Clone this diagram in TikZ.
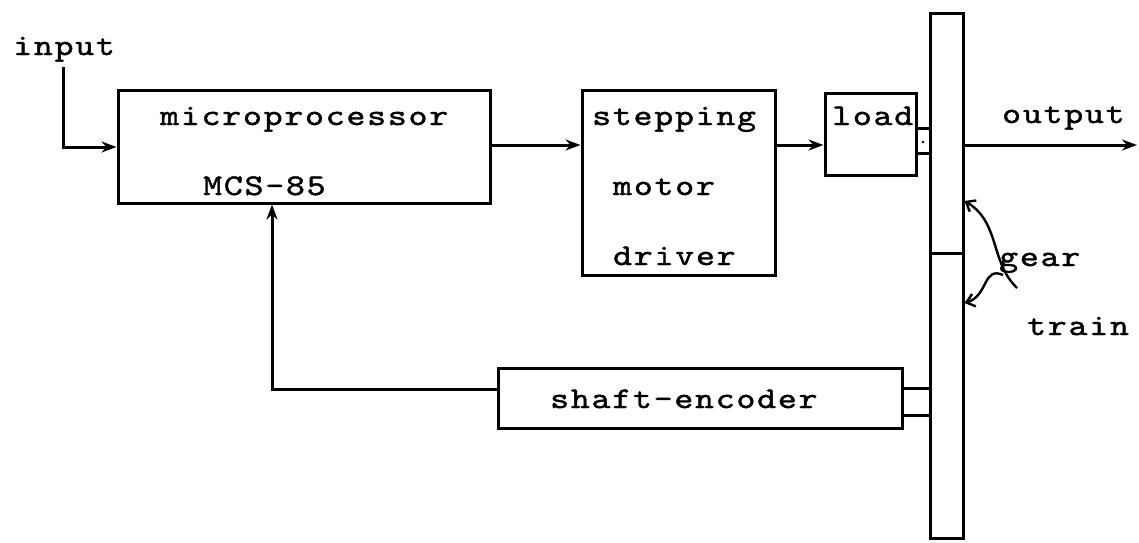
\documentclass[tikz,border=0pt]{standalone}
\usepackage{fontspec}
\newfontfamily\tw{lmmono10-regular}[Extension=.otf, LetterSpace=6, FakeBold=1.4, FakeStretch=1.2]
\usetikzlibrary{arrows.meta}
\tikzset{
  blk/.style={draw, line width=3pt, rectangle, inner sep=0pt},
  lbl/.style={anchor=base west, inner sep=0pt, font=\tw\fontsize{30}{32}\selectfont},
  conn/.style={line width=3pt},
  arr/.style={conn, -{Stealth[length=15pt,width=11pt]}},
  barb/.style={line width=2.4pt, -{Straight Barb[length=8pt,width=13pt]}}
}
\begin{document}
\begin{tikzpicture}[x=1pt,y=-1pt]
\useasboundingbox (0,0) rectangle (1139,542);
% boxes
\node[blk, minimum width=372pt, minimum height=113pt] (mp) at (304,146.5) {};
\node[blk, minimum width=193pt, minimum height=185pt] (smd) at (678.5,182.5) {};
\node[blk, minimum width=91pt, minimum height=82pt] (load) at (870.5,134) {};
\node[blk, minimum width=33pt, minimum height=525pt] (bar) at (946.5,275.5) {};
\node[blk, minimum width=404pt, minimum height=60pt] (enc) at (700,398) {};
\node[blk, minimum width=14pt, minimum height=25pt] (lc) at (923,140.5) {};
\node[blk, minimum width=28pt, minimum height=27pt] (ec) at (916,401.5) {};
\fill (923,142) circle (1.3pt);
\draw[conn] (bar.west |- 0,253) -- (bar.east |- 0,253);
% texts
\node[lbl] (tin) at (13,55) {input};
\node[lbl] (tmp) at (160,125) {microprocessor};
\node[lbl] (tmcs) at (203,195) {MCS-85};
\node[lbl] (tst) at (592,125) {stepping};
\node[lbl] (tmo) at (613,195) {motor};
\node[lbl] (tdr) at (613,265) {driver};
\node[lbl] (tld) at (832,125) {load};
\node[lbl] (tout) at (1002,123) {output};
\node[lbl] (tsh) at (550,408) {shaft-encoder};
\node[lbl] (tgear) at (999,266) {gear};
\node[lbl] (ttr) at (1027,335) {train};
% connectors
\coordinate (inTop) at (63,67);
\coordinate (outEnd) at (1137,145);
\coordinate (fbx) at (272,389);
\draw[arr] (inTop) |- (mp.west |- 0,147);
\draw[arr] (mp.east |- 0,145) -- (smd.west |- 0,145);
\draw[arr] (smd.east |- 0,145) -- (load.west |- 0,145);
\draw[arr] (bar.east |- 0,145) -- (outEnd);
\draw[arr] (enc.west |- 0,389) -- (fbx) -- (fbx |- mp.south);
% gear train curved arrows
\coordinate (g1) at (1017,288);
\coordinate (g2) at (1003,275);
\draw[barb] (g1) .. controls (990,262) and (1000,222) .. (bar.east |- 0,201);
\draw[barb] (g2) .. controls (983,266) and (988,296) .. (bar.east |- 0,303);
\end{tikzpicture}
\end{document}
